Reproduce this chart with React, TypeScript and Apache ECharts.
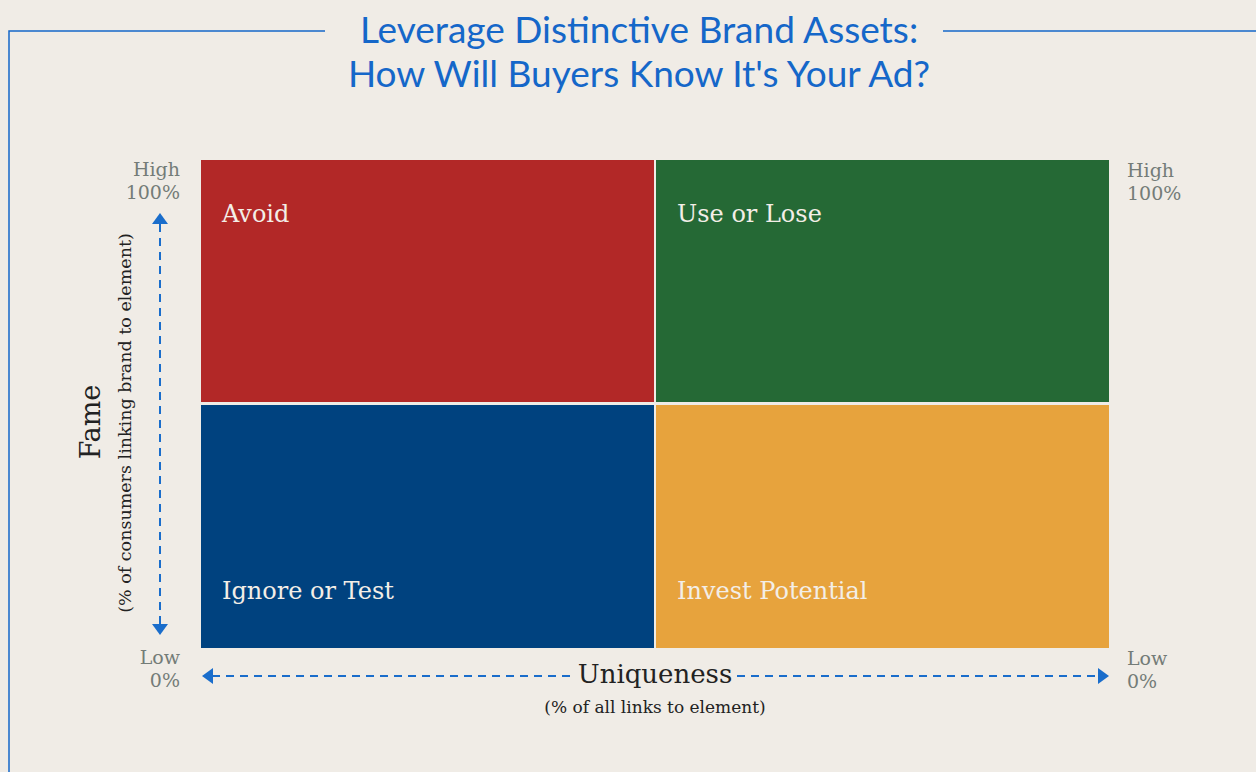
import React, { useEffect, useRef } from "react";
import * as echarts from "echarts";

// ---- data ----
const titleLines = ["Leverage Distinctive Brand Assets:", "How Will Buyers Know It's Your Ad?"];
const quadrantNames = ["Avoid", "Use or Lose", "Ignore or Test", "Invest Potential"];
const quadrantXStart = [0, 50, 0, 50];
const quadrantXEnd = [50, 100, 50, 100];
const quadrantYStart = [50, 50, 0, 0];
const quadrantYEnd = [100, 100, 50, 50];
const quadrantColors = ["#B22827", "#256935", "#00427F", "#E7A33D"];
const highLabel = ["High", "100%"];
const lowLabel = ["Low", "0%"];
const yAxisTitle = "Fame";
const yAxisSubtitle = "(% of consumers linking brand to element)";
const xAxisTitle = "Uniqueness";
const xAxisSubtitle = "(% of all links to element)";

const W = 1256;
const H = 772;
const G = { left: 201, right: 147, top: 160, bottom: 124 };
const SLAB = "'DejaVu Serif', 'Liberation Serif', serif";
const BLUE = "#1A6DCB";
const GREY = "#747C78";

export default function App() {
  const ref = useRef<HTMLDivElement>(null);
  useEffect(() => {
    document.body.style.margin = "0";
    const chart = echarts.init(ref.current!, null, { renderer: "svg" });
    const gx0 = G.left;
    const gx1 = W - G.right;
    const gy0 = G.top;
    const gy1 = H - G.bottom;
    const midX = (gx0 + gx1) / 2;
    const midY = (gy0 + gy1) / 2;
    const arrowY = 676;
    const arrowX = 160;
    const dash = { stroke: BLUE, lineWidth: 2, lineDash: [8, 6] };

    const data = quadrantNames.map((n, i) => [
      quadrantXStart[i],
      quadrantXEnd[i],
      quadrantYStart[i],
      quadrantYEnd[i],
      n,
    ]);

    chart.setOption({
      animation: false,
      backgroundColor: "#F0ECE6",
      title: {
        text: titleLines.join("\n"),
        left: 634,
        top: 1,
        textAlign: "center",
        textStyle: {
          fontFamily: "Lato, 'Open Sans', sans-serif",
          fontWeight: 400,
          fontSize: 37,
          lineHeight: 44,
          color: "#1567C9",
        },
      },
      grid: { left: G.left, right: G.right, top: G.top, bottom: G.bottom },
      xAxis: { type: "value", min: 0, max: 100, show: false },
      yAxis: { type: "value", min: 0, max: 100, show: false },
      series: [
        {
          type: "custom",
          data,
          renderItem: (params: any, api: any) => {
            const x0 = api.value(0);
            const x1 = api.value(1);
            const y0 = api.value(2);
            const y1 = api.value(3);
            const name = quadrantNames[params.dataIndex];
            const tl = api.coord([x0, y1]);
            const br = api.coord([x1, y0]);
            const insL = x0 > 0 ? 1 : 0;
            const insR = x1 < 100 ? 1 : 0;
            const insT = y1 < 100 ? 1 : 0;
            const insB = y0 > 0 ? 2 : 0;
            const rx = tl[0] + insL;
            const ry = tl[1] + insT;
            const rw = br[0] - tl[0] - insL - insR;
            const rh = br[1] - tl[1] - insT - insB;
            const isTop = y0 > 0;
            return {
              type: "group",
              children: [
                {
                  type: "rect",
                  shape: { x: rx, y: ry, width: rw, height: rh },
                  style: { fill: quadrantColors[params.dataIndex] },
                },
                {
                  type: "text",
                  x: rx + 21,
                  y: isTop ? ry + 54 : ry + rh - 57,
                  style: {
                    text: name,
                    fill: "#F3EEE7",
                    font: `24px ${SLAB}`,
                    textAlign: "left",
                    textVerticalAlign: "middle",
                  },
                },
              ],
            };
          },
        },
      ],
      graphic: [
        // frame
        {
          type: "polyline",
          shape: { points: [[325, 31], [9, 31], [9, H]] },
          style: { stroke: "#1567C9", lineWidth: 1.5, fill: "none" },
        },
        {
          type: "line",
          shape: { x1: 943, y1: 31, x2: W, y2: 31 },
          style: { stroke: "#1567C9", lineWidth: 1.5 },
        },
        // corner labels
        {
          type: "text", x: 180, y: gy0 - 3,
          style: { text: highLabel.join("\n"), font: `19px ${SLAB}`, lineHeight: 23, fill: GREY, textAlign: "right" },
        },
        {
          type: "text", x: 1127, y: gy0 - 2,
          style: { text: highLabel.join("\n"), font: `19px ${SLAB}`, lineHeight: 23, fill: GREY, textAlign: "left" },
        },
        {
          type: "text", x: 180, y: gy1 - 3,
          style: { text: lowLabel.join("\n"), font: `19px ${SLAB}`, lineHeight: 23, fill: GREY, textAlign: "right" },
        },
        {
          type: "text", x: 1127, y: gy1 - 2,
          style: { text: lowLabel.join("\n"), font: `19px ${SLAB}`, lineHeight: 23, fill: GREY, textAlign: "left" },
        },
        // vertical arrow
        {
          type: "line",
          shape: { x1: arrowX, y1: 224, x2: arrowX, y2: 624 },
          style: dash,
        },
        {
          type: "polygon",
          shape: { points: [[arrowX, 213], [arrowX - 8, 224], [arrowX + 8, 224]] },
          style: { fill: BLUE },
        },
        {
          type: "polygon",
          shape: { points: [[arrowX, 635], [arrowX - 8, 624], [arrowX + 8, 624]] },
          style: { fill: BLUE },
        },
        // horizontal arrow
        {
          type: "line",
          shape: { x1: gx0 + 11, y1: arrowY, x2: 572, y2: arrowY },
          style: dash,
        },
        {
          type: "line",
          shape: { x1: 737, y1: arrowY, x2: gx1 - 10, y2: arrowY },
          style: dash,
        },
        {
          type: "polygon",
          shape: { points: [[gx0 + 1, arrowY], [gx0 + 12, arrowY - 8], [gx0 + 12, arrowY + 8]] },
          style: { fill: BLUE },
        },
        {
          type: "polygon",
          shape: { points: [[gx1, arrowY], [gx1 - 11, arrowY - 8], [gx1 - 11, arrowY + 8]] },
          style: { fill: BLUE },
        },
        // axis titles
        {
          type: "text", x: midX, y: arrowY - 2,
          style: { text: xAxisTitle, font: `26px ${SLAB}`, fill: "#222222", textAlign: "center", textVerticalAlign: "middle" },
        },
        {
          type: "text", x: midX, y: 707,
          style: { text: xAxisSubtitle, font: `17px ${SLAB}`, fill: "#222222", textAlign: "center", textVerticalAlign: "middle" },
        },
        {
          type: "text", x: 90, y: midY + 18, rotation: Math.PI / 2,
          style: { text: yAxisTitle, font: `27px ${SLAB}`, fill: "#222222", textAlign: "center", textVerticalAlign: "middle" },
        },
        {
          type: "text", x: 125, y: midY + 19, rotation: Math.PI / 2,
          style: { text: yAxisSubtitle, font: `17.5px ${SLAB}`, fill: "#222222", textAlign: "center", textVerticalAlign: "middle" },
        },
      ],
    });
    return () => chart.dispose();
  }, []);
  return (
    <div
      ref={ref}
      style={{ position: "absolute", left: 0, top: 0, width: W, height: H }}
    />
  );
}
